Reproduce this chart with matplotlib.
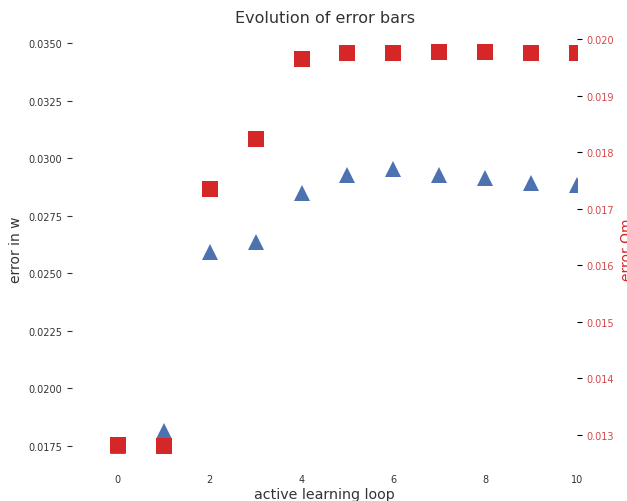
import matplotlib
matplotlib.use("Agg")
import matplotlib.pyplot as plt

loops = [0, 1, 2, 3, 4, 5, 6, 7, 8, 9, 10]
err_w = [0.01752, 0.01813, 0.02592, 0.02636, 0.02848, 0.02925, 0.02951,
         0.02925, 0.02912, 0.02890, 0.02883]
err_om = [0.012823, 0.012805, 0.017348, 0.018232, 0.019646, 0.019761,
          0.019761, 0.019778, 0.019778, 0.019761, 0.019761]

xticks = [0, 2, 4, 6, 8, 10]
left_ticks = [0.0175, 0.0200, 0.0225, 0.0250, 0.0275, 0.0300, 0.0325, 0.0350]
right_ticks = [0.013, 0.014, 0.015, 0.016, 0.017, 0.018, 0.019, 0.020]

plt.rcParams['font.family'] = ['DejaVu Sans']
text_c = '#333333'
blue = '#4C72B0'
red = '#d62728'
red_light = '#d4474c'

fig = plt.figure(figsize=(6.27, 5.02), dpi=100)
ax = fig.add_axes([0.1148, 0.0701, 0.8055, 0.8648])
ax.plot(loops, err_w, linestyle='none', marker='^', markersize=11,
        markeredgewidth=0, color=blue)
ax.set_xlim(-1, 10)
ax.set_ylim(0.01664, 0.03549)
ax.set_xticks(xticks)
ax.set_yticks(left_ticks)
ax.set_yticklabels([f"{v:.4f}" for v in left_ticks])
for s in ax.spines.values():
    s.set_visible(False)
ax.tick_params(axis='x', length=0, labelsize=7, colors=text_c, pad=6)
ax.tick_params(axis='y', length=3.5, width=0.8, labelsize=7, colors=text_c)
ax.set_xlabel('active learning loop', fontsize=10.3, color=text_c, labelpad=2)
ax.set_ylabel('error in w', fontsize=10, color=text_c)
ax.set_title('Evolution of error bars', fontsize=11.5, color=text_c, pad=7)

ax2 = ax.twinx()
ax2.plot(loops, err_om, linestyle='none', marker='s', markersize=11,
         markeredgewidth=0, color=red)
ax2.set_ylim(0.012456, 0.020129)
ax2.set_yticks(right_ticks)
ax2.set_yticklabels([f"{v:.3f}" for v in right_ticks])
for s in ax2.spines.values():
    s.set_visible(False)
ax2.tick_params(axis='y', length=3.5, width=0.8, labelsize=7, color='black',
                labelcolor=red_light)
ax2.set_ylabel('error Om', fontsize=10, color=red)
ax2.set_xlim(-1, 10)

fig.savefig('out.png', dpi=100)
